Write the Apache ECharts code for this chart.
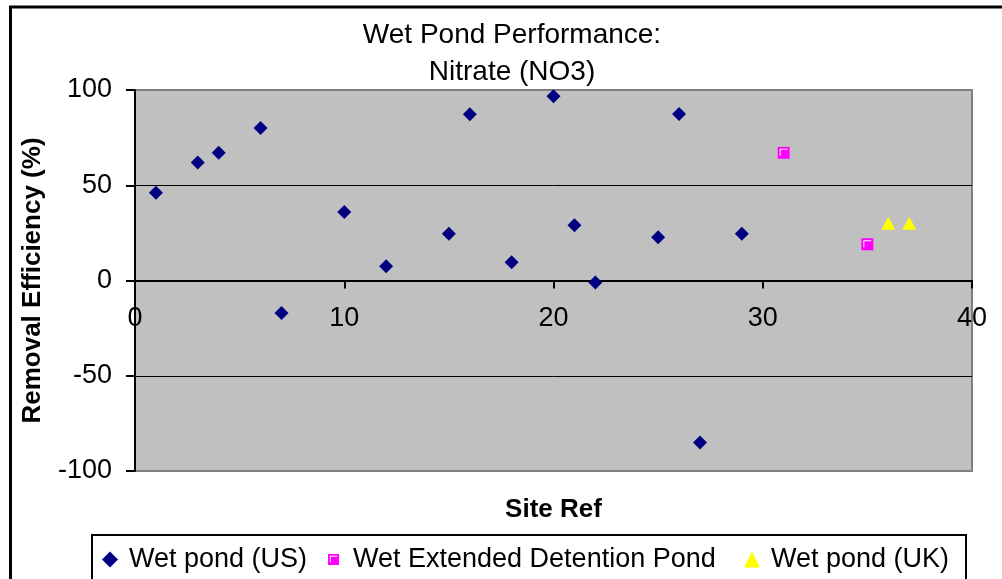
<!DOCTYPE html>
<html>
<head>
<meta charset="utf-8">
<script src="https://cdn.jsdelivr.net/npm/echarts@6/dist/echarts.min.js"></script>
<style>
html,body{margin:0;padding:0;background:#fff;}
#chart{width:1002px;height:579px;}
</style>
</head>
<body>
<div id="chart"></div>
<script>
// Data
const usSites = [1, 3, 4, 6, 7, 10, 12, 15, 16, 18, 20, 21, 22, 25, 26, 27, 29];
const usEff   = [46, 62, 67, 80, -17, 36, 7.5, 24.6, 87.3, 9.6, 96.7, 29, -1, 22.7, 87.4, -85, 24.6];
const wedSites = [31, 35];
const wedEff   = [67, 19];
const ukSites = [36, 37];
const ukEff   = [30, 30];
const seriesNames = ['Wet pond (US)', 'Wet Extended Detention Pond', 'Wet pond (UK)'];
const titleText = 'Wet Pond Performance:\nNitrate (NO3)';
const xName = 'Site Ref';
const yName = 'Removal Efficiency (%)';

const FONT = '"Liberation Sans", Arial, sans-serif';
const pairs = (xs, ys) => xs.map((x, i) => [x, ys[i]]);

// grid geometry
const GRID_TOP = 90, GRID_BOTTOM = 108, CHART_H = 579;
const plotH = CHART_H - GRID_TOP - GRID_BOTTOM;
const zeroOffset = -plotH / 2; // x axis drawn at y = 0 (middle of -100..100)

// Excel-like square marker with a white corner highlight
const squareWithHighlight = 'path://M0,0H12V12H0Z M2,2V9H3V3H10V2Z';
const highlight = 'path://M0,0H8V1H1V7H0Z';

const chart = echarts.init(document.getElementById('chart'), null, {renderer: 'canvas'});
const legendBase = {
  orient: 'horizontal', top: 546, padding: 0, itemWidth: 16, itemHeight: 16, itemGap: 0,
  textStyle: {fontFamily: FONT, fontSize: 27, color: '#000', padding: [0, 0, 0, 6]}
};
chart.setOption({
  animation: false,
  backgroundColor: '#ffffff',
  title: {
    text: titleText, left: 512, top: 17, padding: 0, textAlign: 'center',
    textStyle: {fontFamily: FONT, fontSize: 28, fontWeight: 'normal', color: '#000', lineHeight: 37}
  },
  graphic: [
    {type: 'rect', shape: {x: 10.5, y: 7, width: 1100, height: 700},
     style: {fill: 'none', stroke: '#000', lineWidth: 3}, silent: true},
    {type: 'rect', shape: {x: 92, y: 535, width: 874, height: 100},
     style: {fill: 'none', stroke: '#000', lineWidth: 2}, silent: true}
  ],
  legend: [
    Object.assign({}, legendBase, {left: 102, data: [{name: seriesNames[0], icon: 'diamond', itemStyle: {opacity: 1}}]}),
    Object.assign({}, legendBase, {left: 328, itemWidth: 11, itemHeight: 11,
      textStyle: Object.assign({}, legendBase.textStyle, {padding: [0, 0, 0, 9]}),
      data: [{name: seriesNames[1], icon: squareWithHighlight, itemStyle: {opacity: 1}}]}),
    Object.assign({}, legendBase, {left: 744, data: [{name: seriesNames[2], icon: 'triangle', itemStyle: {opacity: 1}}]})
  ],
  grid: {
    left: 135, right: 30, top: GRID_TOP, bottom: GRID_BOTTOM, show: true,
    containLabel: false, outerBoundsMode: 'none',
    backgroundColor: '#c0c0c0', borderColor: '#808080', borderWidth: 2
  },
  xAxis: {
    type: 'value', min: 0, max: 40, interval: 10, position: 'bottom', offset: zeroOffset,
    name: xName, nameLocation: 'middle', nameGap: 216,
    nameTextStyle: {fontFamily: FONT, fontSize: 26, fontWeight: 'bold', color: '#000'},
    axisLine: {show: true, onZero: false, lineStyle: {color: '#000', width: 2}},
    axisTick: {show: true, inside: false, length: 8, lineStyle: {color: '#000', width: 2}},
    axisLabel: {margin: 25, fontFamily: FONT, fontSize: 27, color: '#000'},
    splitLine: {show: false}
  },
  yAxis: {
    type: 'value', min: -100, max: 100, interval: 50,
    name: yName, nameLocation: 'middle', nameGap: 89, nameRotate: 90,
    nameTextStyle: {fontFamily: FONT, fontSize: 26, fontWeight: 'bold', color: '#000'},
    axisLine: {show: true, onZero: false, lineStyle: {color: '#000', width: 2}},
    axisTick: {show: true, inside: false, length: 9, lineStyle: {color: '#000', width: 2}},
    axisLabel: {margin: 23, fontFamily: FONT, fontSize: 27, color: '#000'},
    splitLine: {show: true, lineStyle: {color: ['#808080', '#000000', '#000000', '#000000', '#808080'], width: 1}}
  },
  series: [
    {name: seriesNames[0], type: 'scatter', symbol: 'diamond', symbolSize: 14,
     itemStyle: {color: '#000080', opacity: 1}, data: pairs(usSites, usEff)},
    {name: seriesNames[1], type: 'scatter', symbol: 'rect', symbolSize: 12,
     itemStyle: {color: '#ff00ff', opacity: 1}, data: pairs(wedSites, wedEff)},
    {name: seriesNames[1] + ' highlight', type: 'scatter', symbol: highlight, symbolSize: [8, 7],
     symbolOffset: [0, -0.5], silent: true, itemStyle: {color: '#ffffff', opacity: 1}, z: 3,
     data: pairs(wedSites, wedEff)},
    {name: seriesNames[2], type: 'scatter', symbol: 'triangle', symbolSize: [14, 13],
     itemStyle: {color: '#ffff00', opacity: 1}, data: pairs(ukSites, ukEff)}
  ]
});
</script>
</body>
</html>
